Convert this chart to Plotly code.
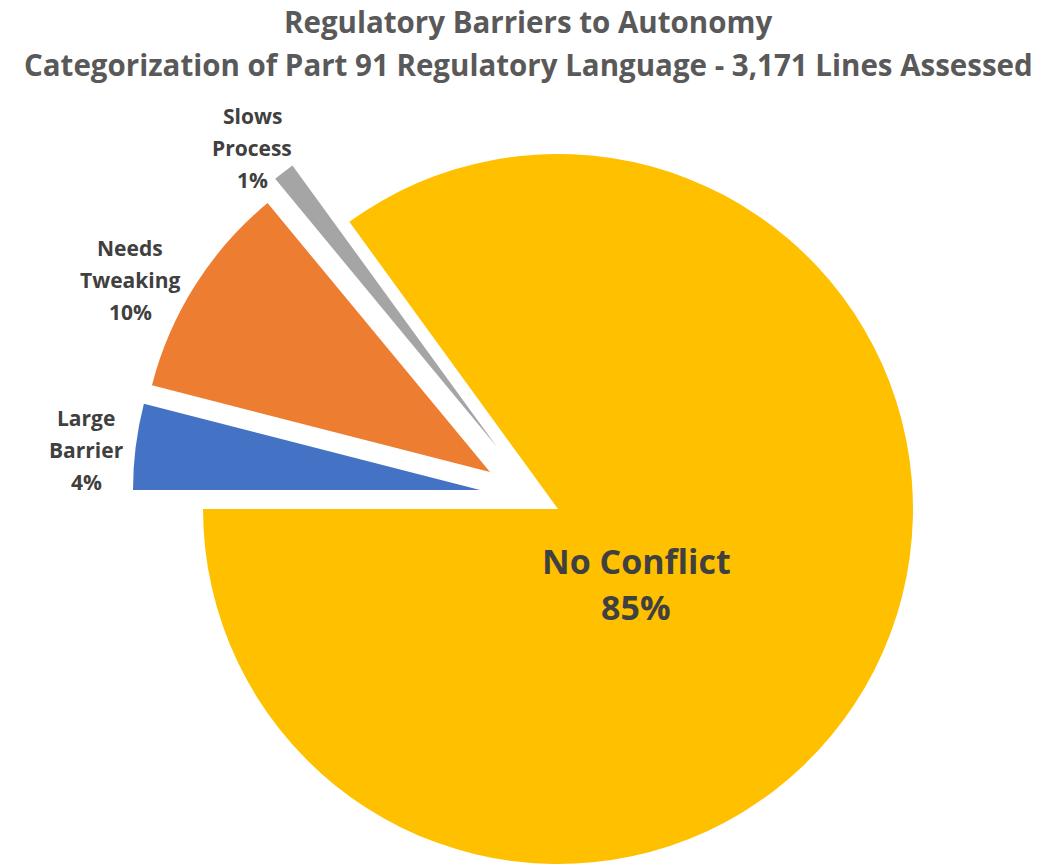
import plotly.graph_objects as go

# ---- data ----
categories = ["Large Barrier", "Needs Tweaking", "Slows Process", "No Conflict"]
values = [4, 10, 1, 85]
colors = ["#4472C4", "#ED7D31", "#A5A5A5", "#FFC000"]
title_line1 = "Regulatory Barriers to Autonomy"
title_line2 = "Categorization of Part 91 Regulatory Language - 3,171 Lines Assessed"

# ---- layout constants (pixels) ----
W, H = 1052, 868
# exploded slice geometry: centre (x, y) and radius for each slice
slice_geom = [(480, 490, 347), (490, 472, 349), (497, 447, 348), (558, 509, 355)]
label_pos = [(86, 450), (130, 280), (252, 148)]   # outside labels of small slices
label_step = 32
main_label_pos = (636, 584)
main_step = 46

TXT = "#404040"
FONT = "Open Sans"

fig = go.Figure()
draw_order = [3, 0, 1, 2]
for i in draw_order:
    cx, cy, r = slice_geom[i]
    cols = [c if j == i else "rgba(0,0,0,0)" for j, c in enumerate(colors)]
    fig.add_trace(go.Pie(
        labels=categories,
        values=values,
        sort=False,
        direction="clockwise",
        rotation=270,
        marker=dict(colors=cols, line=dict(width=0)),
        textinfo="none",
        hoverinfo="skip",
        showlegend=False,
        domain=dict(x=[(cx - r) / W, (cx + r) / W],
                    y=[1 - (cy + r) / H, 1 - (cy - r) / H]),
    ))

annotations = []


def add_lines(lines, cx, cy, step, size, color):
    n = len(lines)
    for k, line in enumerate(lines):
        py = cy + (k - (n - 1) / 2) * step
        annotations.append(dict(
            x=cx / W, y=1 - py / H, xref="paper", yref="paper",
            text=f"<b>{line}</b>", showarrow=False,
            xanchor="center", yanchor="middle",
            font=dict(family=FONT, size=size, color=color)))


# small slice labels
for i, (lx, ly) in enumerate(label_pos):
    add_lines(categories[i].split(" ") + [f"{values[i]}%"], lx, ly, label_step, 21, TXT)

# main slice label
add_lines([categories[3], f"{values[3]}%"], main_label_pos[0], main_label_pos[1],
          main_step, 34, TXT)

# titles
add_lines([title_line1, title_line2], 528, 43.5, 43, 29.5, "#595959")

fig.update_layout(
    width=W, height=H,
    margin=dict(l=0, r=0, t=0, b=0),
    paper_bgcolor="white", plot_bgcolor="white",
    annotations=annotations,
)

fig.write_html("out.html")
